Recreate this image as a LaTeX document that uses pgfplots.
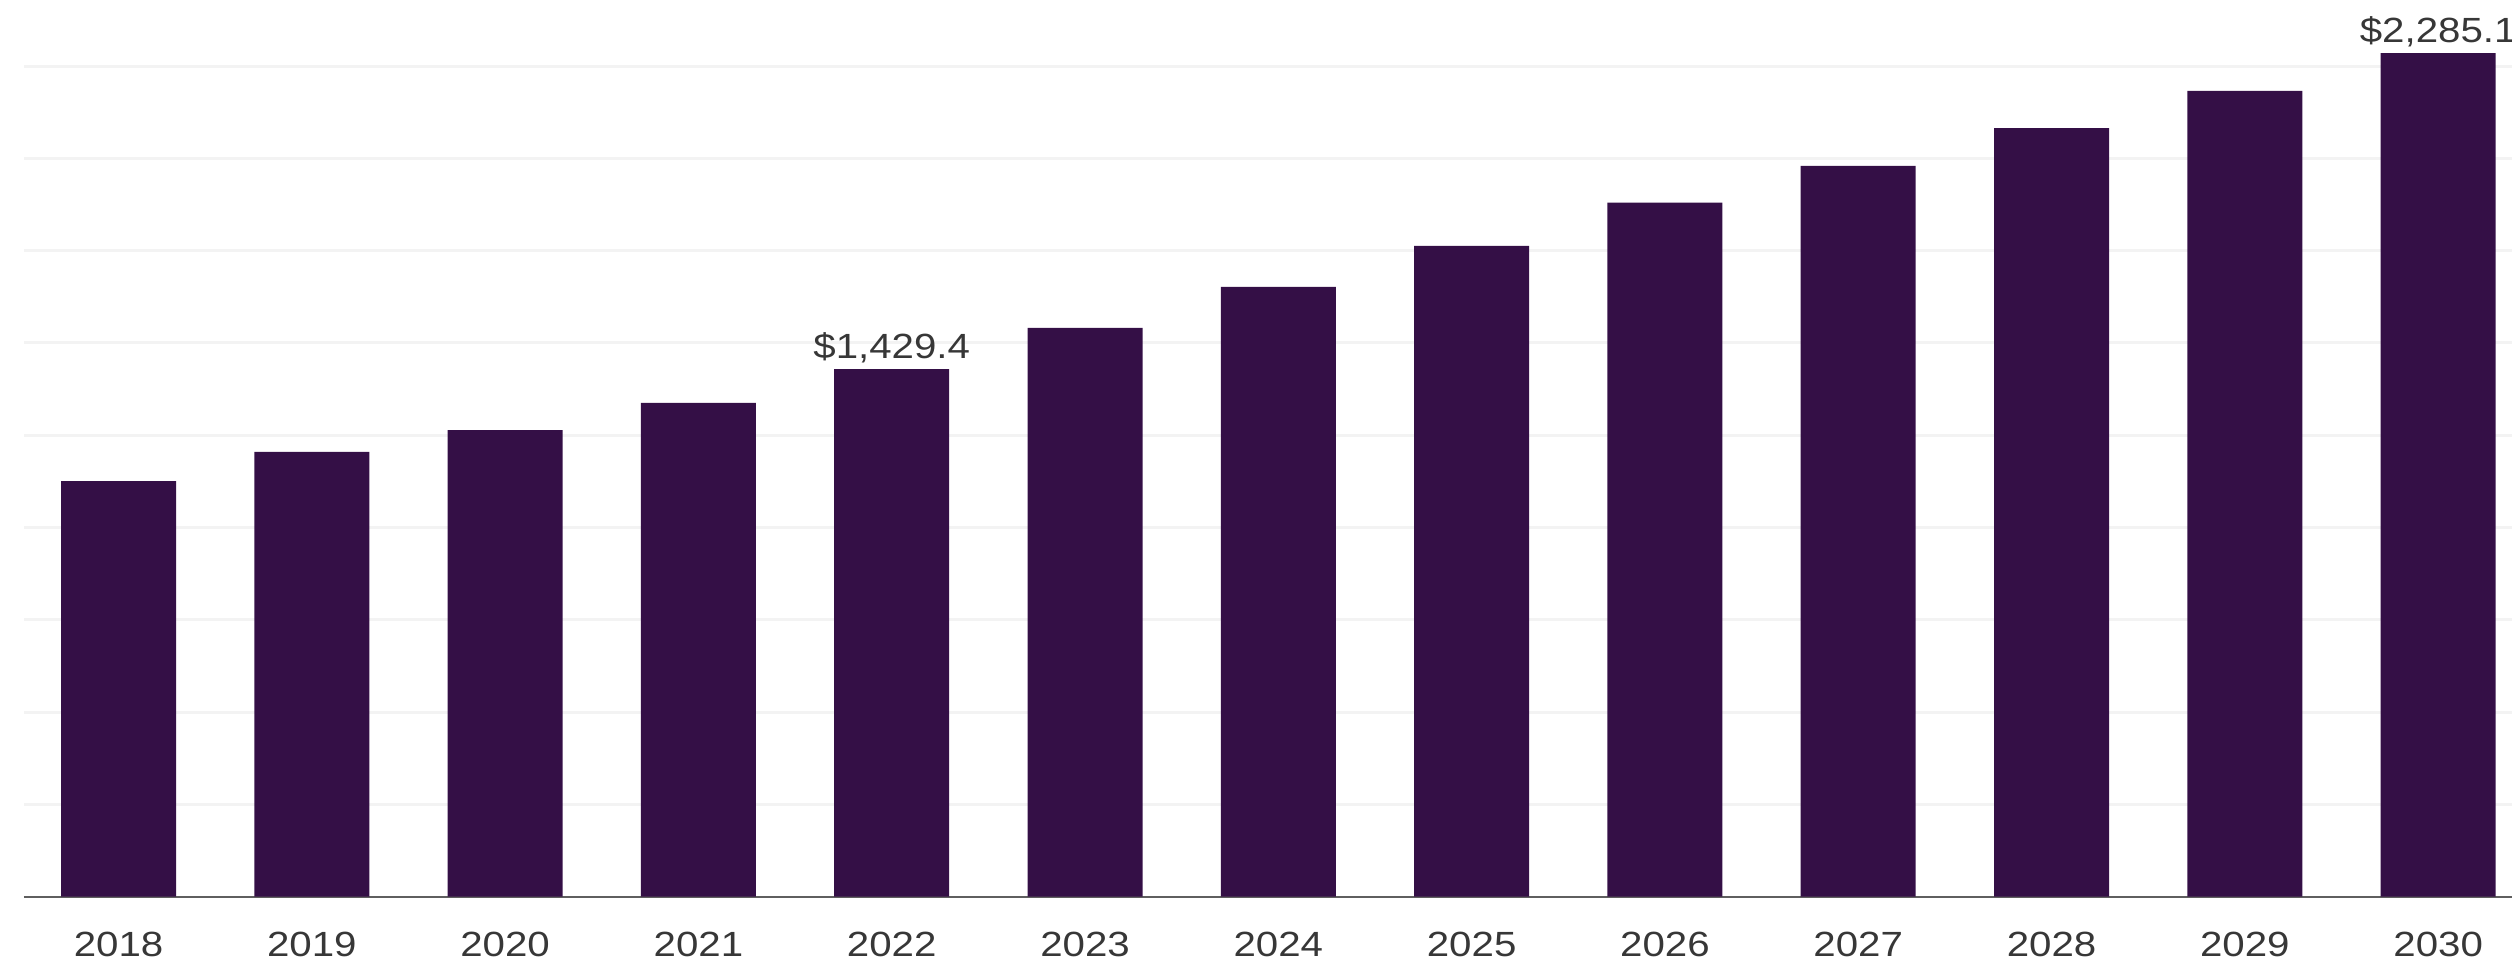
\documentclass[border=0pt]{standalone}
\usepackage{fontspec}
\setmainfont[FakeStretch=1.15]{Liberation Sans}
\usepackage{pgfplots}
\pgfplotsset{compat=1.18}

\definecolor{barpurple}{RGB}{52,15,70}
\definecolor{gridgray}{RGB}{243,243,243}
\definecolor{txtgray}{RGB}{55,55,55}
\definecolor{basegray}{RGB}{95,95,95}

\begin{document}
\begin{tikzpicture}
\begin{axis}[
    at={(12pt,31.65pt)}, anchor=south west,
    x=96.65pt, y=0.18457pt,
    xmin=-0.489, xmax=12.6,
    ymin=0, ymax=2300,
    clip=false,
    axis x line*=bottom, axis y line*=left,
    y axis line style={draw=none},
    x axis line style={draw=basegray, line width=1.1pt},
    xtick={0,...,12},
    xticklabels={2018,2019,2020,2021,2022,2023,2024,2025,2026,2027,2028,2029,2030},
    major tick length=0pt,
    xticklabel style={font=\fontsize{17.5}{21}\selectfont, text=txtgray, yshift=-14pt},
    ytick={250,500,...,2250},
    yticklabels={},
    ymajorgrids,
    grid style={draw=gridgray, line width=1.5pt},
]

% market size by year
\addplot[ybar, bar width=57.5pt, fill=barpurple, draw=none] coordinates {
    (0, 1126)
    (1, 1205)
    (2, 1264)
    (3, 1338)
    (4, 1429.4)
    (5, 1541)
    (6, 1652)
    (7, 1763)
    (8, 1880)
    (9, 1980)
    (10, 2082)
    (11, 2183)
    (12, 2285.1)
};

\node[anchor=base, yshift=5.5pt, font=\fontsize{17.5}{21}\selectfont, text=txtgray]
    at (axis cs:4,1429.4) {\$1,429.4};
\node[anchor=base, yshift=5.5pt, font=\fontsize{17.5}{21}\selectfont, text=txtgray]
    at (axis cs:12,2285.1) {\$2,285.1};
\end{axis}
\pgfresetboundingbox
\path[use as bounding box] (0,0) rectangle (1256pt,480pt);
\end{tikzpicture}
\end{document}
